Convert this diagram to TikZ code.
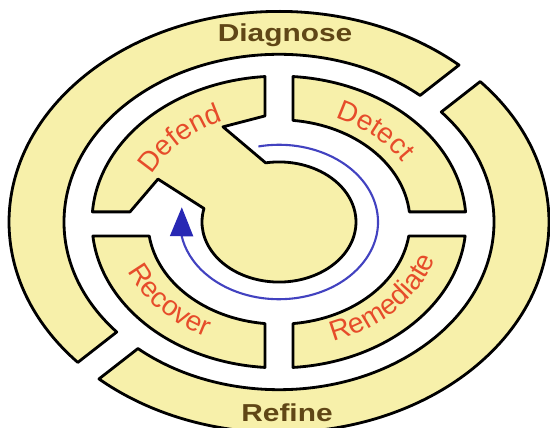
\documentclass[tikz,border=0pt]{standalone}
\usepackage{fontspec}
\setmainfont{Liberation Sans}
\usetikzlibrary{arrows.meta,bending,decorations.text}

\definecolor{ringfill}{RGB}{247,240,170}
\definecolor{phasered}{RGB}{230,76,42}
\definecolor{loopbrown}{RGB}{96,70,22}
\definecolor{cycleblue}{RGB}{66,66,192}
\definecolor{tipblue}{RGB}{40,40,180}

\begin{document}
\begin{tikzpicture}[
    x=0.02cm, y=0.02cm,
    ring/.style={draw, fill=ringfill, line width=1.6pt, line join=round},
    outerlabel/.style={font=\bfseries\fontsize{17}{17}\selectfont, text=loopbrown, yscale=0.82, anchor=base},
    arclabel/.style={decorate, decoration={text along path, text align=center,
        text={|\fontsize{16}{16}\selectfont\color{phasered}|#1}}}
]
\useasboundingbox (-279,-206) rectangle (271,222);

\begin{scope}[yscale=0.78]
% outer ring, two halves
\draw[ring] (48.18:270) arc[start angle=48.18, end angle=221.82, radius=270]
    -- (221:215) arc[start angle=221, end angle=49, radius=215] -- cycle;
\draw[ring] (228.18:270) arc[start angle=228.18, end angle=401.82, radius=270]
    -- (401:215) arc[start angle=401, end angle=229, radius=215] -- cycle;
% middle ring
\draw[ring] (3.99:187) arc[start angle=3.99, end angle=85.71, radius=187]
    -- (83.87:131) arc[start angle=83.87, end angle=5.70, radius=131] -- cycle;
\draw[ring] (-5.52:187) arc[start angle=-5.52, end angle=-85.71, radius=187]
    -- (-83.87:131) arc[start angle=-83.87, end angle=-7.90, radius=131] -- cycle;
\draw[ring] (185.52:187) arc[start angle=185.52, end angle=265.71, radius=187]
    -- (263.87:131) arc[start angle=263.87, end angle=187.90, radius=131] -- cycle;
% defend quarter joined to the hub
\draw[ring] (94.29:187) arc[start angle=94.29, end angle=176.01, radius=187]
    -- (-149,13) -- (-121,55) -- (167:77) arc[start angle=167, end angle=460, radius=77]
    -- (-56,122) -- (-14,136) -- cycle;
% cycle arrow
\draw[cycleblue, line width=1.2pt, -{Triangle[length=0.58cm, width=0.46cm, flex, color=tipblue]}]
    (102:99) arc[start angle=102, end angle=-191, radius=99];
\end{scope}

\path[arclabel=Defend] (176:141 and 110) arc[start angle=176, end angle=96, x radius=141, y radius=110];
\path[arclabel=Detect] (85:145 and 113) arc[start angle=85, end angle=10, x radius=145, y radius=113];
\path[arclabel=Recover] (184:164 and 128) arc[start angle=184, end angle=259, x radius=164, y radius=128];
\path[arclabel=Remediate] (-80:163 and 127) arc[start angle=-80, end angle=-5, x radius=163, y radius=127];
\node[outerlabel] (diagnose) at (6,180) {Diagnose};
\node[outerlabel] (refine) at (8,-200) {Refine};
\end{tikzpicture}
\end{document}
